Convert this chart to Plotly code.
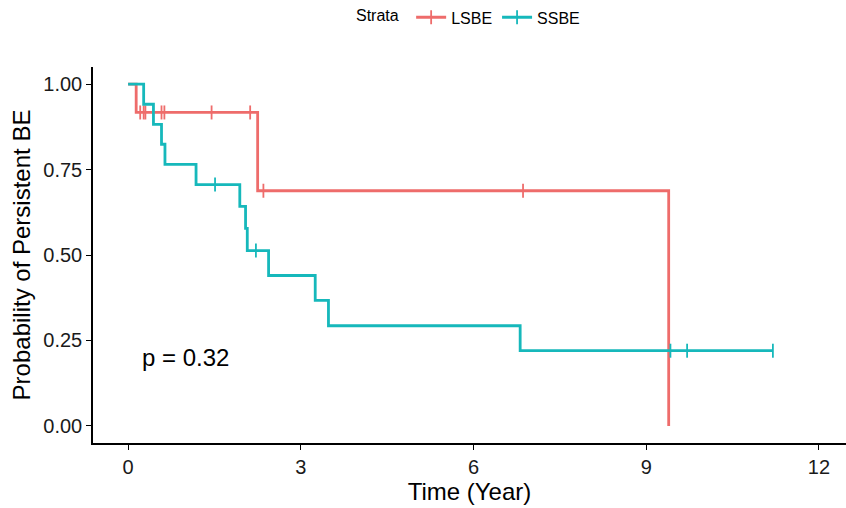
import plotly.graph_objects as go

# ---- data ----
lsbe_time = [0, 0.14, 2.25, 9.39]
lsbe_surv = [1.0, 0.917, 0.688, 0.0]
lsbe_cens_time = [0.21, 0.27, 0.30, 0.58, 0.63, 1.45, 2.12, 2.35, 6.86]
lsbe_cens_surv = [0.917, 0.917, 0.917, 0.917, 0.917, 0.917, 0.917, 0.688, 0.688]

ssbe_time = [0, 0.27, 0.44, 0.58, 0.64, 1.18, 1.94, 2.04, 2.07, 2.44, 3.25, 3.48, 6.81, 11.2]
ssbe_surv = [1.0, 0.941, 0.882, 0.824, 0.765, 0.706, 0.642, 0.578, 0.513, 0.440, 0.367, 0.293, 0.220, 0.220]
ssbe_cens_time = [1.51, 2.22, 9.42, 9.71, 11.2]
ssbe_cens_surv = [0.706, 0.513, 0.220, 0.220, 0.220]

x_ticks = [0, 3, 6, 9, 12]
y_ticks = [0.0, 0.25, 0.5, 0.75, 1.0]
y_tick_labels = ["0.00", "0.25", "0.50", "0.75", "1.00"]
p_text = "p = 0.32"

RED = "#EE6C6B"
TEAL = "#16B8BB"
FONT = "Liberation Sans, Arial, sans-serif"

fig = go.Figure()

for name, t, s, ct, cs, col in [
    ("LSBE", lsbe_time, lsbe_surv, lsbe_cens_time, lsbe_cens_surv, RED),
    ("SSBE", ssbe_time, ssbe_surv, ssbe_cens_time, ssbe_cens_surv, TEAL),
]:
    fig.add_trace(go.Scatter(
        x=t, y=s, mode="lines", line=dict(color=col, width=2.8, shape="hv"),
        name=name, legendgroup=name, showlegend=False, hoverinfo="skip"))
    fig.add_trace(go.Scatter(
        x=ct, y=cs, mode="markers",
        marker=dict(symbol="line-ns", size=10, color=col,
                    line=dict(color=col, width=1.8)),
        name=name, legendgroup=name, showlegend=False, hoverinfo="skip"))
    # legend entry: line with tick mark
    fig.add_trace(go.Scatter(
        x=[None], y=[None], mode="lines+markers",
        line=dict(color=col, width=2.8),
        marker=dict(symbol="line-ns", size=10, color=col,
                    line=dict(color=col, width=1.8)),
        name=name, legendgroup=name, showlegend=True))

fig.add_annotation(x=0.2, y=0.2, xref="x", yref="y", text=p_text,
                   showarrow=False, xanchor="left", yanchor="middle",
                   font=dict(family=FONT, size=24, color="black"))

axis_common = dict(
    showline=True, linecolor="black", linewidth=1.5,
    ticks="outside", ticklen=5, tickwidth=1.3, tickcolor="black",
    showgrid=False, zeroline=False,
    tickfont=dict(family=FONT, size=20, color="#1a1a1a"),
)

fig.update_layout(
    width=846, height=508,
    margin=dict(l=93, r=0, t=65, b=65),
    paper_bgcolor="white", plot_bgcolor="white",
    font=dict(family=FONT, color="black"),
    xaxis=dict(range=[-0.61, 12.47], tickvals=x_ticks,
               title=dict(text="Time (Year)", font=dict(family=FONT, size=24, color="black"), standoff=4),
               **axis_common),
    yaxis=dict(range=[-0.05, 1.05], tickvals=y_ticks, ticktext=y_tick_labels,
               title=dict(text="Probability of Persistent BE", font=dict(family=FONT, size=24, color="black"), standoff=6),
               **axis_common),
    legend=dict(orientation="h", x=0.5, xanchor="center", y=1.132, yanchor="middle",
                title=dict(text="Strata ", side="left", font=dict(family=FONT, size=16, color="black")),
                font=dict(family=FONT, size=16, color="black"),
                itemwidth=30, tracegroupgap=0, bgcolor="rgba(0,0,0,0)"),
    showlegend=True,
)

fig.write_html("out.html")
